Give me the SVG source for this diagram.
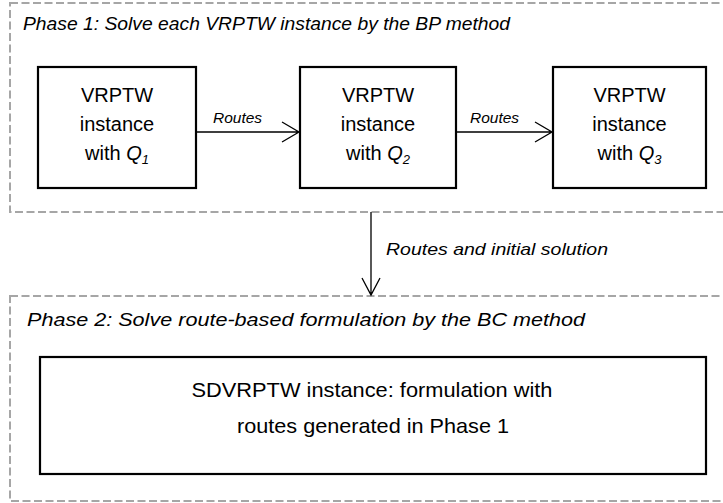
<svg xmlns="http://www.w3.org/2000/svg" width="723" height="503" viewBox="0 0 723 503">
<style>
.phase{fill:none;stroke:#A6A6A6;stroke-width:2;stroke-dasharray:8 3.5}
.box{fill:#fff;stroke:#000;stroke-width:2.2}
.t{font-family:"Liberation Sans",Arial,sans-serif;fill:#000}
.it{font-style:italic}
.c{text-anchor:middle}
.conn{fill:none;stroke:#000;stroke-width:1.3}
</style>
<rect width="723" height="503" fill="#fff"/>
<g id="phase1">
<rect class="phase" x="10" y="3" width="730" height="209"/>
<text class="t it" x="23" y="30" font-size="19" textLength="487" lengthAdjust="spacingAndGlyphs">Phase 1: Solve each VRPTW instance by the BP method</text>
</g>
<g id="phase2">
<rect class="phase" x="10" y="296" width="730" height="205"/>
<text class="t it" x="27" y="326" font-size="19" textLength="558" lengthAdjust="spacingAndGlyphs">Phase 2: Solve route-based formulation by the BC method</text>
</g>
<g id="node1">
<rect class="box" x="38" y="67" width="158" height="121"/>
<text class="t c" x="117" y="102" font-size="20">VRPTW</text>
<text class="t c" x="117" y="131" font-size="20">instance</text>
<text class="t c" x="117" y="160" font-size="20">with <tspan class="it">Q</tspan><tspan class="it" font-size="13" dy="4">1</tspan></text>
</g>
<g id="node2">
<rect class="box" x="300" y="67" width="156" height="121"/>
<text class="t c" x="378" y="102" font-size="20">VRPTW</text>
<text class="t c" x="378" y="131" font-size="20">instance</text>
<text class="t c" x="378" y="160" font-size="20">with <tspan class="it">Q</tspan><tspan class="it" font-size="13" dy="4">2</tspan></text>
</g>
<g id="node3">
<rect class="box" x="553" y="67" width="153" height="121"/>
<text class="t c" x="629.5" y="102" font-size="20">VRPTW</text>
<text class="t c" x="629.5" y="131" font-size="20">instance</text>
<text class="t c" x="629.5" y="160" font-size="20">with <tspan class="it">Q</tspan><tspan class="it" font-size="13" dy="4">3</tspan></text>
</g>
<g id="node4">
<rect class="box" x="40" y="357" width="666" height="117"/>
<text class="t c" x="372" y="397" font-size="21" textLength="361" lengthAdjust="spacingAndGlyphs">SDVRPTW instance: formulation with</text>
<text class="t c" x="373" y="433" font-size="21" textLength="272" lengthAdjust="spacingAndGlyphs">routes generated in Phase 1</text>
</g>
<g id="connectors">
<path class="conn" d="M196 132H299M282 122L299 132L282 142"/>
<text class="t it" x="213" y="123" font-size="15.5">Routes</text>
<path class="conn" d="M456 132H552M535 122L552 132L535 142"/>
<text class="t it" x="470" y="123" font-size="15.5">Routes</text>
<path class="conn" d="M371 212V295M362 278L371 295L380 278"/>
<text class="t it" x="386" y="255" font-size="17" textLength="222" lengthAdjust="spacingAndGlyphs">Routes and initial solution</text>
</g>
</svg>
